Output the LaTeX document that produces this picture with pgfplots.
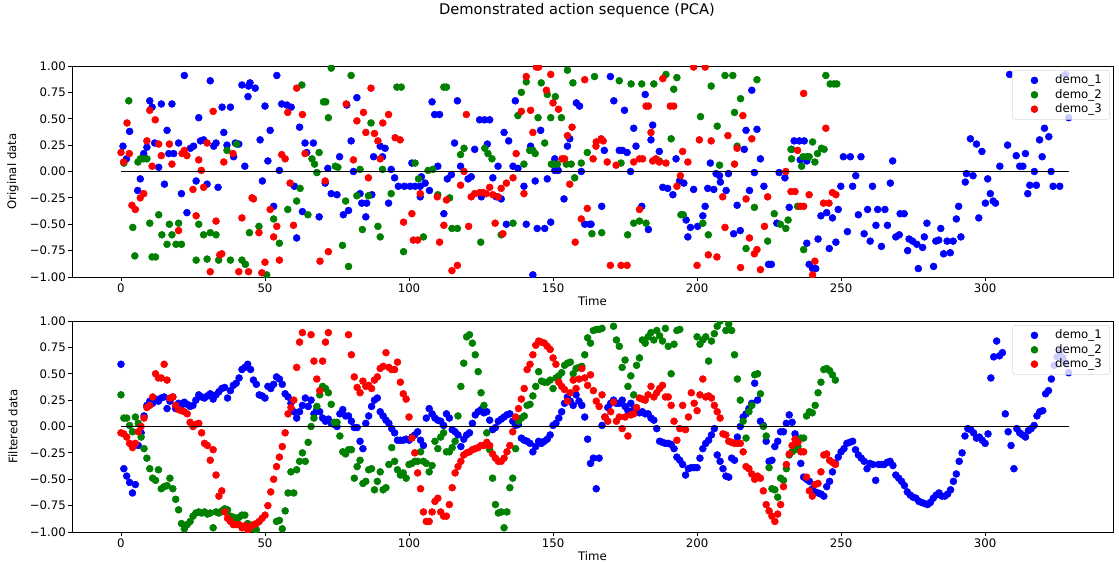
\documentclass[border=0pt]{standalone}
\usepackage{fontspec}
\setmainfont{DejaVu Sans}
\usepackage{pgfplots}
\usepackage{pgfplotstable}
\pgfplotsset{compat=1.18}
\definecolor{mblue}{RGB}{0,0,255}
\definecolor{mgreen}{RGB}{0,128,0}
\definecolor{mred}{RGB}{255,0,0}
\newcommand\tickfont{\fontsize{8.8}{10}\selectfont}

% filtered series, one value per time step (0,1,2,...)
\pgfplotstableread[row sep=\\]{v\\
0.59\\-0.40\\-0.47\\-0.53\\-0.63\\-0.55\\-0.18\\-0.06\\0.10\\0.20\\
0.24\\0.22\\0.26\\0.24\\0.27\\0.28\\0.17\\0.24\\0.28\\0.17\\
0.22\\0.20\\0.23\\0.21\\0.19\\0.20\\0.25\\0.30\\0.28\\0.27\\
0.29\\0.31\\0.26\\0.30\\0.33\\0.36\\0.37\\0.27\\0.34\\0.39\\
0.41\\0.46\\0.54\\0.56\\0.59\\0.54\\0.44\\0.40\\0.30\\0.29\\
0.27\\0.38\\0.36\\0.40\\0.47\\0.45\\0.40\\0.31\\0.28\\0.22\\
0.14\\0.08\\0.14\\0.20\\0.27\\0.19\\0.25\\0.12\\0.16\\0.14\\
0.08\\0.05\\0.07\\0.03\\0.02\\0.00\\0.12\\0.16\\0.10\\0.10\\
0.05\\-0.01\\-0.01\\-0.14\\-0.21\\0.03\\0.10\\0.19\\0.25\\0.27\\
0.14\\0.10\\0.06\\0.03\\-0.02\\-0.06\\-0.13\\-0.13\\-0.13\\-0.12\\
-0.13\\-0.10\\-0.08\\-0.05\\-0.13\\-0.18\\0.08\\0.17\\0.12\\0.08\\
0.06\\0.05\\0.01\\0.12\\0.08\\-0.03\\-0.05\\-0.08\\-0.19\\-0.12\\
-0.08\\-0.06\\0.03\\0.11\\0.14\\0.16\\0.13\\0.14\\0.06\\-0.03\\
-0.01\\0.05\\0.07\\0.09\\0.11\\0.12\\0.05\\0.01\\0.02\\-0.11\\
-0.13\\-0.14\\-0.16\\-0.24\\-0.19\\-0.14\\-0.16\\-0.14\\-0.12\\-0.08\\
0.01\\0.03\\0.08\\0.14\\0.22\\0.28\\0.24\\0.20\\0.30\\0.24\\
0.20\\0.09\\-0.12\\-0.35\\-0.30\\-0.59\\-0.30\\0.01\\0.09\\0.18\\
0.22\\0.25\\0.22\\0.22\\0.25\\0.19\\0.15\\0.22\\0.16\\0.16\\
0.13\\0.14\\0.12\\0.12\\0.08\\0.06\\-0.02\\-0.14\\-0.15\\-0.16\\
-0.16\\-0.17\\-0.21\\-0.29\\-0.32\\-0.36\\-0.46\\-0.40\\-0.39\\-0.39\\
-0.39\\-0.30\\-0.21\\-0.16\\-0.13\\-0.08\\-0.02\\-0.27\\-0.33\\-0.40\\
-0.47\\-0.48\\-0.30\\-0.32\\-0.10\\0.00\\0.09\\0.12\\0.17\\0.22\\
0.41\\0.25\\0.05\\0.01\\-0.14\\-0.33\\-0.32\\-0.19\\-0.14\\-0.05\\
-0.05\\0.03\\0.11\\0.04\\-0.07\\-0.14\\-0.35\\-0.48\\-0.50\\-0.52\\
-0.59\\-0.62\\-0.63\\-0.64\\-0.66\\-0.57\\-0.52\\-0.43\\-0.35\\-0.29\\
-0.24\\-0.21\\-0.16\\-0.15\\-0.14\\-0.22\\-0.27\\-0.30\\-0.33\\-0.40\\
-0.35\\-0.36\\-0.51\\-0.36\\-0.36\\-0.36\\-0.34\\-0.33\\-0.37\\-0.46\\
-0.49\\-0.52\\-0.56\\-0.62\\-0.65\\-0.67\\-0.68\\-0.71\\-0.72\\-0.73\\
-0.74\\-0.72\\-0.68\\-0.65\\-0.63\\-0.66\\-0.66\\-0.64\\-0.60\\-0.52\\
-0.45\\-0.33\\-0.25\\-0.09\\-0.02\\-0.03\\-0.06\\-0.11\\-0.10\\-0.13\\
-0.16\\-0.07\\0.46\\0.66\\0.81\\0.67\\0.70\\0.12\\-0.05\\-0.18\\
-0.40\\-0.02\\-0.06\\-0.08\\-0.10\\-0.04\\-0.02\\0.01\\0.10\\0.14\\
0.15\\0.31\\0.34\\0.45\\0.58\\0.66\\0.71\\0.65\\0.60\\0.51\\
}\bluef

\pgfplotstableread[row sep=\\]{v\\
0.30\\0.08\\0.08\\0.01\\-0.05\\0.09\\0.03\\-0.10\\-0.21\\-0.30\\
-0.40\\-0.49\\-0.51\\-0.41\\-0.59\\-0.57\\-0.56\\-0.49\\-0.59\\-0.69\\
-0.79\\-0.92\\-0.97\\-0.93\\-0.90\\-0.85\\-0.82\\-0.81\\-0.82\\-0.81\\
-0.83\\-0.82\\-0.96\\-0.81\\-0.82\\-0.80\\-0.78\\-0.79\\-0.85\\-0.86\\
-0.89\\-0.86\\-0.84\\-0.84\\-0.92\\-0.95\\-0.97\\-0.98\\-1.10\\-1.10\\
-1.10\\-1.10\\-1.10\\-1.10\\-0.90\\-0.89\\-0.97\\-0.80\\-0.63\\-0.43\\
-0.63\\-0.41\\-0.33\\-0.25\\-0.33\\-0.15\\0.00\\0.08\\0.19\\0.30\\
0.38\\0.36\\0.32\\0.21\\0.04\\0.04\\-0.09\\-0.24\\-0.26\\-0.22\\
-0.22\\-0.49\\-0.38\\-0.32\\-0.54\\-0.52\\-0.41\\-0.40\\-0.60\\-0.52\\
-0.43\\-0.60\\-0.58\\-0.36\\-0.20\\-0.33\\-0.41\\-0.46\\-0.44\\-0.49\\
-0.36\\-0.35\\-0.33\\-0.33\\-0.24\\-0.33\\-0.35\\-0.43\\-0.37\\-0.14\\
-0.21\\-0.10\\-0.06\\-0.24\\-0.24\\-0.20\\-0.14\\0.10\\0.38\\0.60\\
0.85\\0.87\\0.79\\0.68\\0.52\\0.32\\0.20\\-0.06\\-0.22\\-0.49\\
-0.74\\-0.82\\-0.81\\-0.96\\-0.81\\-0.58\\-0.49\\-0.21\\0.05\\0.08\\
0.10\\0.20\\0.21\\0.29\\0.38\\0.52\\0.43\\0.42\\0.42\\0.44\\
0.36\\0.46\\0.48\\0.51\\0.58\\0.60\\0.61\\0.50\\0.55\\0.56\\
0.57\\0.68\\0.84\\0.79\\0.91\\0.92\\0.92\\0.93\\1.10\\1.10\\
1.10\\0.95\\0.82\\0.76\\0.56\\0.63\\0.38\\0.48\\0.30\\0.58\\
0.65\\0.82\\0.79\\0.85\\0.89\\0.82\\0.91\\0.86\\0.81\\0.93\\
0.76\\0.50\\0.78\\0.91\\0.92\\1.10\\1.10\\1.10\\1.10\\1.10\\
0.85\\0.78\\0.82\\0.85\\0.62\\0.81\\0.88\\0.95\\1.00\\1.10\\
0.91\\0.97\\0.91\\0.68\\0.45\\0.25\\0.05\\-0.11\\0.14\\0.20\\
0.49\\0.50\\0.31\\0.00\\-0.09\\-0.39\\-0.59\\-0.60\\-0.67\\-0.49\\
-0.51\\-0.40\\-0.27\\-0.24\\-0.22\\-0.19\\-0.11\\-0.11\\0.10\\0.14\\
0.13\\0.20\\0.32\\0.42\\0.54\\0.55\\0.53\\0.49\\0.44\\
}\greenf

\pgfplotstableread[row sep=\\]{v\\
-0.06\\-0.07\\-0.10\\-0.16\\-0.20\\-0.16\\-0.05\\0.00\\0.08\\0.18\\
0.20\\0.28\\0.50\\0.46\\0.46\\0.59\\0.44\\0.27\\0.28\\0.20\\
0.16\\0.15\\0.14\\0.12\\0.04\\0.00\\0.02\\0.03\\-0.06\\-0.16\\
-0.18\\-0.32\\-0.22\\-0.46\\-0.66\\-0.61\\-0.81\\-0.87\\-0.90\\-0.93\\
-0.93\\-0.93\\-0.96\\-0.94\\-0.98\\-0.95\\-0.93\\-0.92\\-0.90\\-0.87\\
-0.84\\-0.75\\-0.62\\-0.50\\-0.38\\-0.29\\-0.19\\-0.06\\0.12\\0.18\\
0.25\\0.56\\0.80\\0.89\\1.10\\1.10\\0.87\\0.62\\0.45\\0.34\\
0.62\\0.80\\0.89\\1.10\\1.10\\1.10\\1.10\\1.10\\1.10\\0.87\\
0.68\\0.47\\0.37\\0.32\\0.43\\0.38\\0.39\\0.36\\0.44\\0.47\\
0.55\\0.57\\0.70\\0.56\\0.54\\0.54\\0.61\\0.42\\0.31\\0.26\\
0.09\\-0.11\\-0.25\\-0.44\\-0.59\\-0.81\\-0.90\\-0.90\\-0.81\\-0.71\\
-0.68\\-0.81\\-0.85\\-0.85\\-0.74\\-0.58\\-0.44\\-0.38\\-0.33\\-0.27\\
-0.25\\-0.24\\-0.22\\-0.21\\-0.20\\-0.18\\-0.18\\-0.15\\-0.18\\-0.26\\
-0.30\\-0.33\\-0.33\\-0.30\\-0.24\\-0.18\\-0.05\\0.09\\0.17\\0.26\\
0.36\\0.54\\0.59\\0.68\\0.77\\0.81\\0.80\\0.79\\0.76\\0.73\\
0.65\\0.59\\0.42\\0.38\\0.35\\0.24\\0.32\\0.44\\0.36\\0.45\\
0.55\\0.46\\0.39\\0.49\\0.34\\0.24\\0.19\\0.30\\0.09\\0.05\\
0.14\\0.23\\0.05\\0.09\\-0.02\\0.09\\-0.09\\0.11\\0.12\\0.18\\
0.27\\0.26\\0.25\\0.30\\0.38\\0.28\\0.32\\0.36\\0.39\\0.28\\
0.28\\0.20\\0.05\\-0.13\\-0.02\\0.20\\-0.03\\0.09\\0.32\\0.22\\
0.15\\0.30\\0.45\\0.28\\0.29\\0.27\\0.20\\0.14\\0.08\\-0.07\\
-0.08\\-0.14\\-0.15\\-0.16\\-0.16\\-0.16\\-0.24\\-0.38\\-0.40\\-0.45\\
-0.50\\-0.47\\-0.49\\-0.61\\-0.74\\-0.80\\-0.85\\-0.90\\-0.83\\-0.74\\
-0.57\\-0.36\\-0.26\\-0.18\\-0.12\\-0.15\\-0.24\\-0.24\\-0.48\\-0.61\\
-0.66\\-0.55\\-0.54\\-0.43\\-0.27\\-0.26\\-0.32\\-0.34\\-0.36\\
}\redf

\pgfplotsset{
  pcaaxis/.style={
    scale only axis, width=780.75pt, height=158.25pt,
    xmin=-17, xmax=344.4, ymin=-1, ymax=1,
    xtick={0,50,100,150,200,250,300},
    xticklabels={0,50,100,150,200,250,300},
    ytick={-1,-0.75,-0.5,-0.25,0,0.25,0.5,0.75,1},
    yticklabels={−1.00,−0.75,−0.50,−0.25,0.00,0.25,0.50,0.75,1.00},
    tick pos=left, tick align=outside, major tick length=3pt,
    tick style={black, line width=0.6pt},
    axis line style={line width=0.6pt},
    ticklabel style={font=\tickfont},
    xticklabel style={inner sep=2pt},
    yticklabel style={inner sep=1.5pt},
    clip marker paths=true,
    every axis x label/.style={at={(axis description cs:0.5,-0.114)}, anchor=center, font=\tickfont},
    every axis y label/.style={at={(axis description cs:-0.0567,0.5)}, rotate=90, anchor=center, font=\tickfont},
    xlabel={Time},
    legend style={at={(axis description cs:0.9971,0.981)}, anchor=north east,
      draw=black!15, fill=white, fill opacity=0.8, text opacity=1,
      rounded corners=2pt, font=\tickfont, nodes={inner sep=1pt},
      inner xsep=5pt, inner ysep=2.5pt, row sep=0.6pt, cells={anchor=west}},
    legend image code/.code={
      \path[draw=none, fill=none] (0pt,-3pt) rectangle (26pt,3pt);
      \draw[mark repeat=2,mark phase=2,#1,fill opacity=1,draw opacity=1]
        plot coordinates {(0pt,0pt)(11.5pt,0pt)(23pt,0pt)};},
  },
  dots/.style={only marks, mark=*, mark size=2.6pt},
}

\begin{document}
\begin{tikzpicture}
\path[use as bounding box] (0,0) rectangle (839.25pt,-422.25pt);
\node[font=\fontsize{11}{13}\selectfont] at (432.75pt,-7.5pt) {Demonstrated action sequence (PCA)};

\begin{axis}[pcaaxis, at={(54pt,-49.5pt)}, anchor=north west, ylabel={Original data}]
\addplot[dots, mblue] coordinates {
(0.7,0.24)(1.9,0.12)(3,0.38)(5.8,-0.18)(6.7,-0.07)(7.9,0.17)(9,0.23)(10,0.67)(10.8,0.61)(11.7,0.27)
(13.1,0.04)(14,0.64)(15.1,-0.12)(16,0.39)(16.6,0.17)(17.7,0.64)(18.3,0.17)(20,0.27)(21,-0.21)(22,0.91)
(22.9,-0.39)(24.1,0.22)(25.2,0.24)(26.1,-0.09)(27,0.51)(27.6,0.29)(28.7,0.30)(29.9,-0.12)(31,0.86)(32.2,0.24)
(33,0.27)(33.7,-0.15)(35.1,0.61)(35.7,0.37)(36.8,0.25)(38,0.61)(39.1,0.14)(39.7,0.27)(40.9,0.26)(42,0.82)
(43,0.05)(44.1,0.71)(44.3,0.81)(44.8,0.84)(46.6,0.79)(48.3,0.30)(49.1,-0.09)(50,0.62)(51,0.10)(51.8,0.39)
(53,-0.33)(54.1,0.91)(55,0.01)(55.8,0.64)(57.6,0.63)(59.1,0.61)(60.2,-0.14)(61,-0.63)(62,0.42)(63,-0.38)
(63.9,0.27)(64.5,0.18)(66.8,0.27)(68.8,-0.43)(70.9,-0.11)(71.8,0.03)(73,-0.21)(75,-0.22)(75.9,0.14)(77.2,-0.41)
(78.4,0.63)(79,-0.37)(79.9,0.29)(80.7,0)(81.9,0.70)(83,-0.21)(83.6,-0.30)(85,-0.43)(85.3,-0.30)(87.1,-0.22)
(87.7,0.14)(90,0.24)(90.8,0.14)(91.7,0.22)(92.9,-0.30)(93.8,0.02)(95,-0.06)(96.3,-0.14)(98.4,-0.14)(100.4,-0.14)
(101,0.08)(102.1,-0.14)(103.9,-0.24)(103.9,-0.14)(104.3,-0.05)(105.6,-0.11)(107.1,-0.18)(108,0.66)(108.9,0.54)(110,0.05)
(110.6,0.54)(112.1,-0.40)(113.3,-0.07)(114.7,-0.03)(115.8,0.27)(116.8,0.67)(117.9,0.05)(120.5,-0.07)(121.6,-0.05)(122.8,0.21)
(124.5,0.49)(125.1,-0.24)(126.2,0.49)(127.2,0.26)(128,0.49)(129.1,-0.06)(130.3,-0.24)(130.9,0.05)(132,-0.26)(133,0.37)
(133.8,-0.50)(134.6,0.29)(136.1,0.05)(136.9,0.67)(137.8,0.03)(139.9,-0.14)(140.7,-0.50)(142.2,0.24)(143,-0.98)(143.8,-0.09)
(144.5,-0.54)(145.7,0.39)(147.1,-0.54)(148,-0.07)(149.2,-0.48)(150.6,0.12)(150.6,0.01)(151.8,0.01)(153.8,-0.26)(155,0.24)
(155.8,0.31)(158.1,0.65)(159.2,0.62)(159.8,0)(161,-0.50)(162.7,-0.50)(163.2,-0.50)(166.9,-0.33)(167.8,0.20)(169.9,0.90)
(171.1,0.67)(173,0.20)(174.1,0.20)(174.8,0.58)(175.7,0.18)(176.9,0)(178,0.41)(178.8,0.24)(180.8,-0.33)(182,0.73)
(183.1,-0.55)(184,0.30)(184.6,0.44)(186.9,0.19)(188.1,-0.15)(189.8,-0.16)(191.6,-0.22)(192.7,0.12)(193.9,-0.09)(195.4,-0.11)
(196.2,-0.46)(196.8,-0.62)(197.7,-0.53)(198.8,-0.17)(200.2,-0.52)(202,-0.42)(202.8,-0.33)(203.7,-0.16)(204.6,0.08)(205.8,-0.17)
(206.6,-0.02)(207.8,-0.04)(208.1,-0.10)(210.1,-0.18)(210.9,-0.02)(212.7,-0.59)(213.9,-0.32)(215,-0.56)(216.4,0.21)(217,0.39)
(218.2,-0.18)(219,0.77)(219.9,-0.01)(220.8,0.40)(222,0.12)(223.2,-0.14)(224.8,-0.88)(225.8,-0.88)(227.7,-0.49)(228.5,-0.01)
(230.5,-0.06)(232,-0.34)(232.8,0.21)(233.7,0.29)(235.5,0.29)(235.8,0.11)(237.2,0.29)(238.1,0.10)(238.1,-0.68)(238.9,-0.88)
(240.1,-0.92)(241.2,-0.92)(242,-0.64)(243,-0.42)(245,-0.39)(245.9,-0.73)(247,-0.44)(248.2,-0.67)(249,-0.36)(249.9,-0.14)
(250.8,0.14)(252.2,-0.57)(253.2,0.14)(254,-0.14)(255.1,-0.04)(256,-0.41)(256.9,0.14)(258,-0.59)(259.2,-0.36)(260.1,-0.66)
(260.9,-0.14)(262.1,-0.51)(262.7,-0.36)(264,-0.71)(265.2,-0.36)(266.1,-0.51)(267.1,-0.11)(267.9,0.10)(269,-0.62)(270.2,-0.60)
(270.5,-0.40)(271.9,-0.40)(273.1,-0.75)(273.6,-0.64)(274.8,-0.66)(276.3,-0.69)(276.8,-0.92)(278.3,-0.72)(278.9,-0.62)(279.8,-0.49)
(282.1,-0.90)(282.9,-0.66)(284.6,-0.54)(283.9,-0.65)(285.6,-0.78)(286.8,-0.66)(287.9,-0.77)(288.9,-0.66)(290,-0.45)(290.8,-0.33)
(291.6,-0.62)(293.1,-0.10)(293.5,-0.02)(294.9,0.31)(295.8,-0.04)(297,0.26)(297.8,-0.44)(298.9,0.19)(300.1,-0.30)(300.9,-0.07)
(301.8,-0.21)(302.8,-0.28)(303.6,-0.30)(305.1,0.05)(307.8,0.25)(308.5,0.92)(310.8,0.15)(312,0.05)(313.1,0.05)(314,0.17)
(314.8,-0.21)(315.5,-0.13)(317.1,0)(317.8,-0.13)(318.9,0.30)(319.8,0.14)(320.6,0.41)(322.1,0.33)(322.9,0)(323.6,-0.14)
(325.9,-0.14)(327.9,0.92)(329,0.51)
};
\addplot[dots, mgreen] coordinates {
(1,0.08)(2.7,0.67)(4.1,-0.53)(4.8,-0.80)(5.9,0.09)(6.7,0.12)(7.9,0.12)(9,0.12)(10,-0.49)(10.8,-0.81)
(12,-0.81)(13.1,-0.41)(14.2,-0.60)(16,-0.69)(16.8,-0.50)(17.7,-0.60)(19.1,-0.69)(20,-0.49)(21,-0.69)(26.1,-0.84)
(27,-0.50)(28.7,-0.60)(29.9,-0.83)(31,-0.58)(33,-0.60)(33.9,-0.84)(36.8,0.20)(38,-0.84)(40.1,0.26)(42,-0.84)
(43.2,-0.88)(44.6,-0.58)(47.9,-0.52)(50.6,-0.98)(53,-0.45)(55,-0.68)(57.9,-0.36)(61,-0.28)(62.2,-0.16)(62.8,0.82)
(64.9,-0.41)(66.3,0.12)(67.2,0.07)(68,-0.01)(68.8,0.18)(70.3,0.66)(71.1,0.66)(72,0.51)(73,0.98)(74.4,0.05)
(75.3,0.04)(76.9,-0.70)(78,-0.28)(79,-0.90)(79.9,0.91)(81.9,-0.23)(83,0.02)(83.8,-0.55)(85.9,-0.23)(86.8,0.46)
(89.2,-0.52)(90,-0.62)(90.8,0.02)(93.8,-0.21)(95.8,0.80)(97.3,0.80)(98.1,-0.76)(102.1,0.08)(103.3,-0.07)(105,-0.62)
(106.6,0.01)(108.3,0.02)(110,-0.22)(112.1,0.80)(113,0.80)(114.1,-0.25)(114.9,-0.54)(116.8,-0.54)(117.9,0.16)(119.1,0.22)
(124.9,-0.67)(126.3,0.22)(127.4,0.17)(128.8,0.12)(132,-0.60)(136.1,-0.49)(137.8,0.53)(139,0.75)(139.9,0.07)(140.7,0.85)
(141.9,0.20)(143,0.20)(143.8,0.17)(144.8,0.51)(145.9,0.84)(147.1,0.27)(148,0.73)(149.2,0.51)(149.4,0.07)(150.4,0.07)
(150.8,0.71)(151.5,0.07)(152.9,0.51)(154.6,0.07)(155,0.96)(156.3,0.07)(156.9,0.84)(157.5,-0.06)(159.8,0.08)(161.9,0.18)
(163.5,-0.59)(164.4,0.90)(166.9,-0.58)(173,0.86)(173.6,0.08)(175.9,-0.60)(177.1,0.83)(178,-0.49)(180,-0.47)(180.8,0.83)
(182.3,-0.49)(185,0.83)(186.9,0.10)(189.2,0.92)(191,0.31)(191.9,0.78)(193,0.89)(194.4,-0.41)(195.2,-0.41)(201.2,0.52)
(202,-0.49)(203.9,-0.60)(204.9,0.81)(207,0.43)(207.8,0.06)(209.7,0.91)(212.4,0.91)(213,0.56)(213.9,0.24)(215.1,0.69)
(217,-0.73)(219.9,-0.34)(220.8,0.87)(224.5,-0.66)(226.8,-0.40)(228.9,-0.50)(230.8,-0.54)(231.6,-0.46)(232.6,0.21)(232.8,0.12)
(234.9,-0.33)(236.3,0.05)(236.8,0.14)(237,-0.74)(238.1,0.14)(238.9,0.14)(240.1,0.28)(240.9,0.09)(241.8,0.17)(243.2,0.22)
(244.1,0.21)(244.7,0.91)(246.2,0.83)(247.5,0.83)(248.5,0.83)
};
\addplot[dots, mred] coordinates {
(0,0.18)(0.9,0.09)(2.1,0.46)(2.9,0.17)(3.8,-0.32)(5,-0.36)(6.7,-0.25)(7.9,-0.21)(9,0.29)(10,0.58)
(10.8,0.05)(11.9,0.49)(13.1,0.26)(14,0.15)(16.8,0.26)(17.7,0.07)(20,-0.56)(21.2,0.17)(22,0.20)(22.9,0.15)
(25,-0.17)(26.1,-0.42)(27,0.11)(27.9,0.01)(28.7,-0.15)(29.9,0.27)(31,-0.95)(32,0.57)(33,-0.47)(34.3,-0.79)
(35,-0.78)(35.7,0.09)(38.9,0.17)(40.9,-0.95)(42,-0.44)(44.3,-0.95)(45.5,-0.25)(46,-0.26)(47.9,-0.58)(48.9,-0.96)
(50,-0.86)(51.8,-0.36)(53,-0.62)(54.1,-0.52)(55,-0.84)(55.8,0.16)(57,0.12)(57.9,0.56)(58.7,-0.11)(59.9,-0.51)
(61,0.79)(63,0.54)(63.9,0.17)(69.1,-0.85)(70.9,-0.09)(72,-0.76)(78.2,0.64)(80.7,0.11)(81.9,0.48)(84.2,0.56)
(85,0.37)(85.9,-0.06)(86.8,0.79)(88,0.36)(89.2,0.29)(90,0.12)(90.9,0.46)(92.9,0.54)(95.2,0.32)(96.9,0.30)
(98.1,-0.48)(101,-0.40)(101.5,-0.65)(103,-0.65)(103.9,-0.21)(109.8,-0.24)(110.6,-0.67)(112.1,-0.51)(113,-0.27)(114.9,-0.94)
(116.8,-0.89)(117.9,-0.13)(119.1,0)(119.9,0.54)(120.7,-0.52)(121.6,-0.24)(122.8,-0.21)(124.5,-0.20)(125.7,-0.20)(126.8,-0.21)
(128,-0.15)(129.1,-0.22)(129.9,-0.49)(130.9,-0.24)(132,-0.16)(132.6,-0.59)(133.8,-0.11)(136.1,-0.06)(137.2,0.17)(139,0.57)
(139.9,-0.21)(140.7,0.90)(142.2,0.58)(143,0.37)(144.2,0.99)(145,0.99)(147.7,0.77)(149.2,0.92)(150,0.65)(151.9,0.59)
(153.1,0.12)(154,0.12)(155,0.34)(155.8,-0.12)(156.6,0.42)(157.7,-0.67)(159.8,-0.45)(161,0.87)(161.9,-0.35)(163.9,0.12)
(165,0.28)(164.9,0.24)(166.7,0.31)(167.4,0.29)(168.8,0.09)(169.9,-0.89)(171.9,0.06)(173.6,-0.89)(175.7,-0.89)(178,0.09)
(180,0.12)(180,-0.36)(181.1,0.12)(182.3,0.62)(183.1,0.62)(184,0.37)(184.6,0.10)(185.7,0.12)(186.9,0.09)(188.1,0.88)
(189.2,0.08)(190.7,0.62)(191.9,0.62)(193,-0.14)(194.2,-0.04)(195,0.19)(196.8,0.09)(198.8,0.99)(200,-0.89)(200.8,0.30)
(202.8,0.99)(203.9,-0.79)(204.9,0.29)(206.9,-0.81)(208.9,-0.24)(209.7,-0.53)(210.7,0.34)(213,0.07)(213.9,0.22)(215.1,-0.91)
(215.9,0.53)(217,-0.26)(218.2,-0.63)(219,0.31)(219.9,-0.78)(220.8,-0.74)(222,-0.93)(223.4,-0.52)(224.5,-0.24)(230.8,0)
(232.6,-0.19)(234,-0.19)(234.9,0.20)(235.8,-0.33)(237,-0.33)(237,0.74)(238.9,-0.22)(240.1,-0.98)(240.9,-0.85)(243.9,-0.30)
(244.7,0.41)(245.8,-0.30)(247,-0.20)(248.2,-0.22)
};
\addplot[black, line width=0.9pt, forget plot] coordinates {(0,0) (329,0)};
\legend{demo\_1,demo\_2,demo\_3}
\end{axis}

\begin{axis}[pcaaxis, at={(54pt,-240.75pt)}, anchor=north west, ylabel={Filtered data}]
\addplot[dots, mblue] table[x expr=\coordindex, y=v] {\bluef};
\addplot[dots, mgreen] table[x expr=\coordindex, y=v] {\greenf};
\addplot[dots, mred] table[x expr=\coordindex, y=v] {\redf};
\addplot[black, line width=0.9pt, forget plot] coordinates {(0,0) (329,0)};
\legend{demo\_1,demo\_2,demo\_3}
\end{axis}
\end{tikzpicture}
\end{document}
